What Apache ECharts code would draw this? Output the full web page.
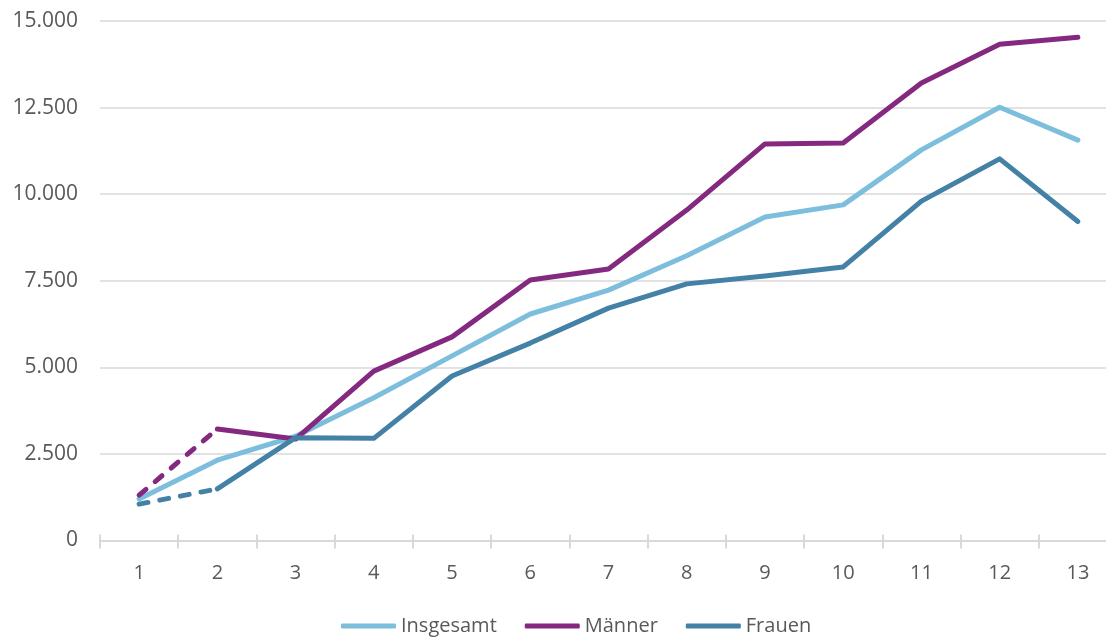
<!DOCTYPE html>
<html>
<head>
<meta charset="utf-8">
<script src="https://cdn.jsdelivr.net/npm/echarts@6/dist/echarts.min.js"></script>
<style>
  html, body { margin: 0; padding: 0; background: #ffffff; overflow: hidden; }
  /* the plot area runs slightly past the right edge of the window */
  #chart { width: 1120px; height: 637px; }
</style>
</head>
<body>
<div id="chart"></div>
<script>
// Category labels along the x axis
const categories = ['1', '2', '3', '4', '5', '6', '7', '8', '9', '10', '11', '12', '13'];

// Series values
const insgesamt = [1200, 2320, 3010, 4120, 5330, 6540, 7230, 8220, 9340, 9690, 11280, 12510, 11560];
const maenner   = [1310, 3220, 2930, 4890, 5880, 7520, 7840, 9540, 11450, 11480, 13210, 14330, 14530];
const frauen    = [1050, 1490, 2970, 2950, 4750, 5700, 6710, 7410, 7640, 7900, 9800, 11020, 9210];

// Value axis ticks
const yMax = 15000;
const yInterval = 2500;

const colors = {
  insgesamt: '#7dbedd',
  maenner: '#84297f',
  frauen: '#4481a6',
  grid: '#d9d9d9',
  text: '#595959'
};

const font = '"Open Sans", "Liberation Sans", sans-serif';

// First interval (1 → 2) is drawn dashed, the rest solid
function dashedPart(values) {
  return values.map((v, i) => (i <= 1 ? v : null));
}
function solidPart(values) {
  return values.map((v, i) => (i >= 1 ? v : null));
}

function lineSeries(name, data, color, dashed) {
  return {
    name: name,
    type: 'line',
    data: data,
    symbol: 'none',
    connectNulls: false,
    animation: false,
    itemStyle: { color: color },
    lineStyle: {
      color: color,
      width: 5,
      cap: 'round',
      join: 'round',
      type: dashed ? [9, 12] : 'solid'
    },
    emphasis: { disabled: true }
  };
}

const chart = echarts.init(document.getElementById('chart'));

chart.setOption({
  backgroundColor: '#ffffff',
  animation: false,
  grid: { left: 100, top: 21, right: 3, height: 519.5, containLabel: false },
  legend: {
    data: ['Insgesamt', 'Männer', 'Frauen'],
    left: 336,
    top: 609,
    icon: 'roundRect',
    itemWidth: 55,
    itemHeight: 5,
    itemGap: 28,
    textStyle: { fontFamily: font, fontSize: 20, color: colors.text, lineHeight: 24 },
    selectedMode: false
  },
  xAxis: [
    {
      type: 'category',
      data: categories,
      boundaryGap: true,
      axisLine: { show: true, lineStyle: { color: colors.grid, width: 2 } },
      axisTick: { show: true, length: 8, lineStyle: { color: colors.grid, width: 2 } },
      axisLabel: { fontFamily: font, fontSize: 20, color: colors.text, margin: 23 },
      splitLine: { show: false }
    },
    {
      type: 'category',
      data: categories,
      position: 'bottom',
      boundaryGap: true,
      axisLine: { show: false },
      axisTick: { show: true, inside: true, length: 6, lineStyle: { color: colors.grid, width: 2 } },
      axisLabel: { show: false },
      splitLine: { show: false }
    }
  ],
  yAxis: {
    type: 'value',
    min: 0,
    max: yMax,
    interval: yInterval,
    axisLine: { show: false },
    axisTick: { show: false },
    axisLabel: {
      fontFamily: font,
      fontSize: 21,
      color: colors.text,
      margin: 22,
      formatter: v => v === 0 ? '0' : v.toLocaleString('de-DE')
    },
    splitLine: { show: true, lineStyle: { color: colors.grid, width: 1.5 } }
  },
  series: [
    lineSeries('Insgesamt', insgesamt, colors.insgesamt, false),
    lineSeries('Männer', dashedPart(maenner), colors.maenner, true),
    lineSeries('Männer', solidPart(maenner), colors.maenner, false),
    lineSeries('Frauen', dashedPart(frauen), colors.frauen, true),
    lineSeries('Frauen', solidPart(frauen), colors.frauen, false)
  ]
});
</script>
</body>
</html>
